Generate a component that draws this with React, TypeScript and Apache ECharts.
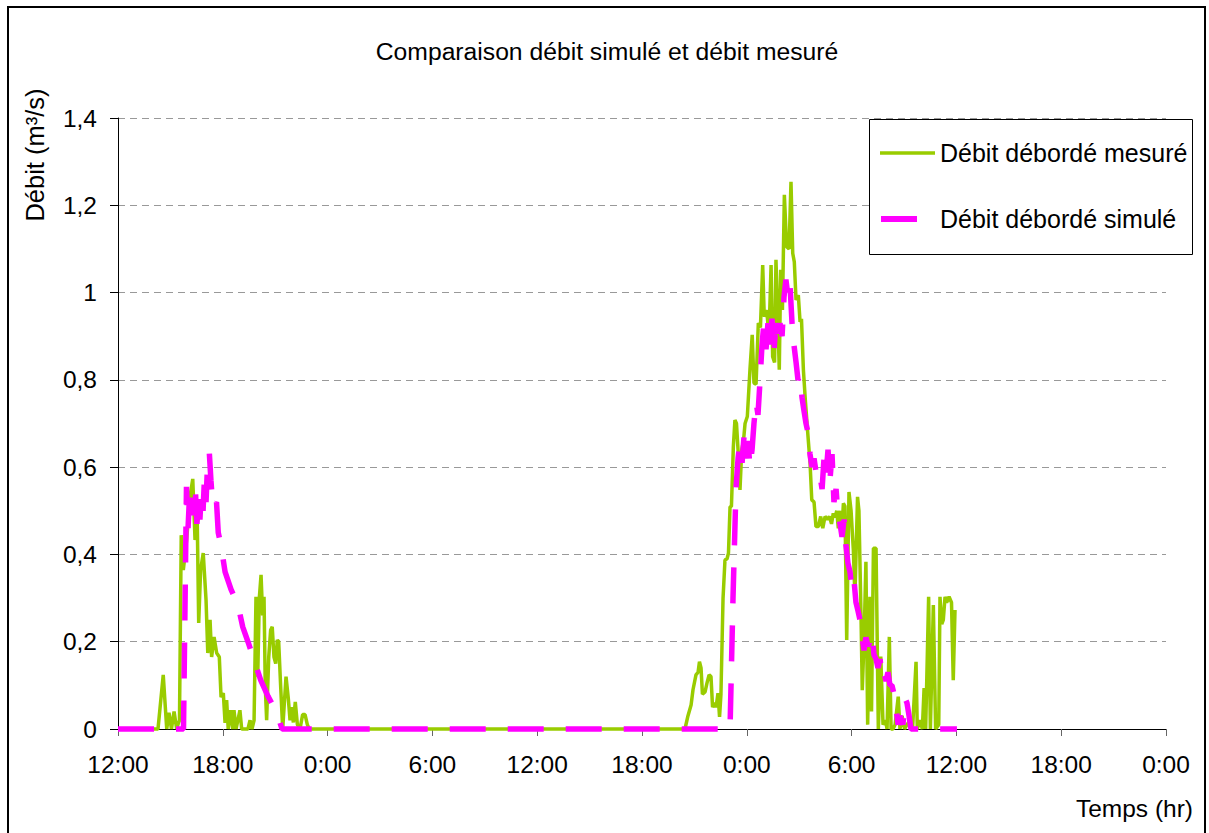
import React, { useEffect, useRef } from "react";
import * as echarts from "echarts";

const TITLE = "Comparaison débit simulé et débit mesuré";
const Y_NAME = "Débit (m³/s)";
const X_NAME = "Temps (hr)";
const SERIES_NAMES = ["Débit débordé mesuré", "Débit débordé simulé"];
const START_HOUR = 12; // the time axis starts at 12:00
const X_MAX_HOURS = 60;
const X_STEP_HOURS = 6;
const Y_MAX = 1.4;
const Y_STEP = 0.2;

// [hours since start (12:00), flow m³/s]
const measured: [number, number][] = [
  [0, 0], [2.29, 0], [2.59, 0.124], [2.79, 0], [2.92, 0.037], [3.06, 0], [3.21, 0.04], [3.36, 0],
  [3.43, 0.01], [3.52, 0.02], [3.62, 0.444], [3.74, 0.364], [3.93, 0.433], [4.12, 0.532], [4.28, 0.573],
  [4.41, 0.433], [4.54, 0.47], [4.62, 0.243], [4.73, 0.364], [4.88, 0.403], [5.04, 0.296], [5.14, 0.174],
  [5.27, 0.25], [5.36, 0.165], [5.5, 0.211], [5.65, 0.174], [5.8, 0.165], [5.9, 0.073], [6.03, 0.082],
  [6.13, 0.014], [6.22, 0.066], [6.31, 0], [6.45, 0.043], [6.57, 0], [6.64, 0.043], [6.76, 0],
  [6.98, 0.043], [7.08, 0], [7.44, 0], [7.56, 0.02], [7.67, 0], [7.79, 0.02], [7.9, 0.303], [8.0, 0.12],
  [8.09, 0.3], [8.19, 0.353], [8.28, 0.26], [8.36, 0.303], [8.43, 0.1], [8.51, 0.02], [8.63, 0.165],
  [8.74, 0.227], [8.83, 0.234], [8.93, 0.165], [9.03, 0.15], [9.12, 0.204], [9.2, 0.2], [9.31, 0.1],
  [9.43, 0], [9.62, 0.12], [9.75, 0.07], [9.85, 0.02], [9.94, 0.05], [10.04, 0.015], [10.15, 0.062],
  [10.27, 0.01], [10.42, 0], [10.57, 0.033], [10.71, 0.033], [10.84, 0.01], [10.95, 0],
  [32.46, 0], [32.63, 0.03], [32.81, 0.055], [32.92, 0.09], [33.09, 0.124], [33.21, 0.13], [33.29, 0.154],
  [33.38, 0.14], [33.46, 0.08], [33.61, 0.085], [33.72, 0.105], [33.84, 0.124], [33.95, 0.12], [34.04, 0.05],
  [34.15, 0.06], [34.24, 0.05], [34.35, 0.082], [34.44, 0.028], [34.52, 0.08], [34.64, 0.3], [34.75, 0.387],
  [34.87, 0.39], [34.95, 0.403], [35.04, 0.509], [35.12, 0.51], [35.23, 0.647], [35.32, 0.708], [35.41, 0.7],
  [35.51, 0.632], [35.61, 0.548], [35.71, 0.64], [35.81, 0.66], [35.9, 0.7], [36.03, 0.716], [36.18, 0.823],
  [36.31, 0.903], [36.41, 0.793], [36.53, 0.79], [36.66, 0.93], [36.78, 0.92], [36.91, 1.063], [37.0, 0.945],
  [37.14, 0.96], [37.27, 0.9], [37.39, 1.063], [37.48, 0.853], [37.59, 0.84], [37.67, 1.075], [37.76, 0.96],
  [37.86, 0.823], [37.94, 1.052], [38.04, 0.96], [38.15, 1.224], [38.28, 1.105], [38.42, 1.1], [38.53, 1.254],
  [38.63, 1.09], [38.72, 1.07], [38.82, 0.983], [38.95, 0.994], [39.05, 0.933], [39.13, 0.94], [39.24, 0.823],
  [39.35, 0.754], [39.49, 0.678], [39.62, 0.61], [39.72, 0.525], [39.85, 0.52], [39.96, 0.464], [40.1, 0.464],
  [40.23, 0.487], [40.35, 0.46], [40.48, 0.487], [40.62, 0.48], [40.73, 0.487], [40.85, 0.47], [40.95, 0.494],
  [41.05, 0.485], [41.15, 0.5], [41.24, 0.46], [41.34, 0.5], [41.43, 0.44], [41.53, 0.517], [41.62, 0.51],
  [41.72, 0.204], [41.85, 0.543], [41.97, 0.5], [42.1, 0.41], [42.19, 0.303], [42.34, 0.532], [42.42, 0.5],
  [42.54, 0.257], [42.61, 0.089], [42.71, 0.2], [42.82, 0.383], [42.92, 0.01], [43.05, 0.303], [43.14, 0.04],
  [43.25, 0.414], [43.4, 0.414], [43.53, 0], [43.67, 0.166], [43.8, 0.01], [43.94, 0.02], [44.03, 0],
  [44.16, 0.211], [44.26, 0], [44.37, 0], [44.49, 0.01], [44.67, 0.074], [44.77, 0], [44.89, 0.03],
  [45.03, 0], [45.17, 0.01], [45.34, 0.02], [45.49, 0], [45.69, 0.154], [45.76, 0], [45.92, 0.02],
  [46.05, 0], [46.15, 0.094], [46.24, 0], [46.41, 0.303], [46.51, 0], [46.68, 0.284], [46.81, 0],
  [46.99, 0.01], [47.06, 0.303], [47.16, 0.24], [47.25, 0.25], [47.35, 0.303], [47.44, 0.29], [47.58, 0.303],
  [47.72, 0.29], [47.82, 0.112], [47.92, 0.273],
];

const simulated: [number, number][] = [
  [0, 0], [3.75, 0], [3.92, 0.555], [4.01, 0.46], [4.09, 0.53], [4.18, 0.48], [4.27, 0.53], [4.35, 0.49],
  [4.44, 0.54], [4.52, 0.47], [4.61, 0.525], [4.69, 0.48], [4.78, 0.55], [4.87, 0.5], [4.95, 0.575],
  [5.04, 0.52], [5.12, 0.6], [5.23, 0.632], [5.32, 0.57], [5.41, 0.52], [5.52, 0.51], [5.64, 0.52],
  [5.74, 0.45], [5.9, 0.42], [6.13, 0.36], [6.47, 0.32], [6.87, 0.284], [7.14, 0.234], [7.44, 0.2],
  [7.79, 0.158], [8.17, 0.112], [8.59, 0.075], [9.09, 0.037], [9.39, 0],
  [35.04, 0], [35.21, 0.3], [35.38, 0.55], [35.5, 0.62], [35.61, 0.66], [35.73, 0.61], [35.84, 0.67],
  [35.95, 0.62], [36.07, 0.66], [36.18, 0.6], [36.3, 0.64], [36.41, 0.7], [36.53, 0.75], [36.64, 0.72],
  [36.76, 0.8], [36.87, 0.88], [36.98, 0.93], [37.1, 0.87], [37.21, 0.93], [37.33, 0.88], [37.44, 0.94],
  [37.56, 0.87], [37.67, 0.93], [37.79, 0.88], [37.9, 0.93], [38.02, 0.9], [38.13, 0.99], [38.24, 1.03],
  [38.36, 0.99], [38.47, 1.02], [38.59, 0.93], [38.7, 0.88], [38.82, 0.84], [38.93, 0.8], [39.05, 0.81],
  [39.16, 0.76], [39.27, 0.73], [39.39, 0.7], [39.5, 0.68], [39.62, 0.63], [39.73, 0.6], [39.85, 0.62],
  [39.96, 0.59], [40.08, 0.57], [40.19, 0.58], [40.31, 0.55], [40.42, 0.62], [40.53, 0.58], [40.65, 0.64],
  [40.76, 0.57], [40.88, 0.63], [40.99, 0.52], [41.11, 0.55], [41.22, 0.49], [41.34, 0.47], [41.45, 0.44],
  [41.57, 0.48], [41.68, 0.42], [41.79, 0.38], [41.91, 0.36], [42.02, 0.32], [42.14, 0.34], [42.25, 0.29],
  [42.37, 0.27], [42.48, 0.25], [42.6, 0.21], [42.71, 0.18], [42.82, 0.21], [42.94, 0.19], [43.05, 0.2],
  [43.17, 0.22], [43.28, 0.17], [43.4, 0.16], [43.51, 0.14], [43.63, 0.16], [43.74, 0.12], [43.85, 0.13],
  [43.97, 0.11], [44.08, 0.13], [44.2, 0.1], [44.31, 0.1], [44.43, 0.08], [44.54, 0.05], [44.66, 0.01],
  [44.77, 0.03], [44.94, 0.01], [45.06, 0.07], [45.17, 0.06], [45.29, 0.03], [45.4, 0], [48.03, 0],
];

const GREEN = "#99CC00";
const MAGENTA = "#FF00FF";
const FONT = "'Liberation Sans', Arial, Helvetica, sans-serif";

export default function App() {
  const ref = useRef<HTMLDivElement>(null);

  useEffect(() => {
    if (!ref.current) return;
    const chart = echarts.init(ref.current, null, { renderer: "svg" });
    const txt = (x: number, y: number, text: string, align: string, size: number, extra: any = {}) => ({
      type: "text",
      x,
      y,
      z: 100,
      silent: true,
      ...extra,
      style: {
        text,
        fill: "#000",
        font: `${size}px ${FONT}`,
        fontSize: size,
        fontFamily: FONT,
        align,
        textAlign: align,
        verticalAlign: "middle",
        textVerticalAlign: "middle",
      },
    });
    chart.setOption({
      animation: false,
      backgroundColor: "#ffffff",
      textStyle: { fontFamily: FONT },
      grid: { left: 118, right: 43, top: 118, bottom: 104, containLabel: false },
      xAxis: {
        type: "value",
        min: 0,
        max: X_MAX_HOURS,
        interval: X_STEP_HOURS,
        axisLine: { show: true, onZero: false, lineStyle: { color: "#000", width: 1 } },
        axisTick: { show: true, length: 7, lineStyle: { color: "#666", width: 1 } },
        axisLabel: {
          color: "#000",
          fontSize: 24.5,
          fontFamily: FONT,
          margin: 23,
          showMinLabel: true,
          showMaxLabel: true,
          formatter: (v: number) => `${(START_HOUR + Math.round(v)) % 24}:00`,
        },
        splitLine: { show: false },
      },
      yAxis: {
        type: "value",
        min: 0,
        max: Y_MAX,
        interval: Y_STEP,
        axisLine: { show: true, lineStyle: { color: "#000", width: 1 } },
        axisTick: { show: true, length: 8, lineStyle: { color: "#000", width: 1 } },
        axisLabel: {
          color: "#000",
          fontSize: 24.5,
          fontFamily: FONT,
          margin: 21,
          formatter: (v: number) => String(Number(v.toFixed(1))).replace(".", ","),
        },
        splitLine: { show: true, lineStyle: { color: "#999", width: 1, type: [7, 5] } },
      },
      series: [
        {
          name: SERIES_NAMES[0],
          type: "line",
          data: measured,
          showSymbol: false,
          symbol: "none",
          clip: false,
          lineStyle: { color: GREEN, width: 3.5 },
          itemStyle: { color: GREEN },
          z: 2,
        },
        {
          name: SERIES_NAMES[1],
          type: "line",
          data: simulated,
          showSymbol: false,
          symbol: "none",
          clip: false,
          lineStyle: { color: MAGENTA, width: 5.5, type: [36, 22], cap: "butt" },
          itemStyle: { color: MAGENTA },
          z: 3,
        },
      ],
      graphic: [
        {
          type: "rect",
          silent: true,
          z: 100,
          shape: { x: 8, y: 7, width: 1197, height: 900 },
          style: { fill: "none", stroke: "#000", lineWidth: 2 },
        },
        txt(607, 51, TITLE, "center", 24.7),
        txt(35, 155, Y_NAME, "center", 25.5, { rotation: Math.PI / 2 }),
        txt(1193, 808, X_NAME, "right", 24.5),
        {
          type: "rect",
          silent: true,
          z: 90,
          shape: { x: 869.5, y: 119.5, width: 323, height: 135 },
          style: { fill: "#fff", stroke: "#000", lineWidth: 1 },
        },
        {
          type: "line",
          silent: true,
          z: 100,
          shape: { x1: 880, y1: 153, x2: 935, y2: 153 },
          style: { stroke: GREEN, lineWidth: 3.5 },
        },
        txt(940, 153, SERIES_NAMES[0], "left", 25),
        {
          type: "line",
          silent: true,
          z: 100,
          shape: { x1: 881, y1: 219, x2: 917, y2: 219 },
          style: { stroke: MAGENTA, lineWidth: 6 },
        },
        txt(940, 219, SERIES_NAMES[1], "left", 25),
      ],
    });
    return () => chart.dispose();
  }, []);

  return (
    <div
      ref={ref}
      style={{ position: "fixed", left: 0, top: 0, width: 1209, height: 833, background: "#fff" }}
    />
  );
}
